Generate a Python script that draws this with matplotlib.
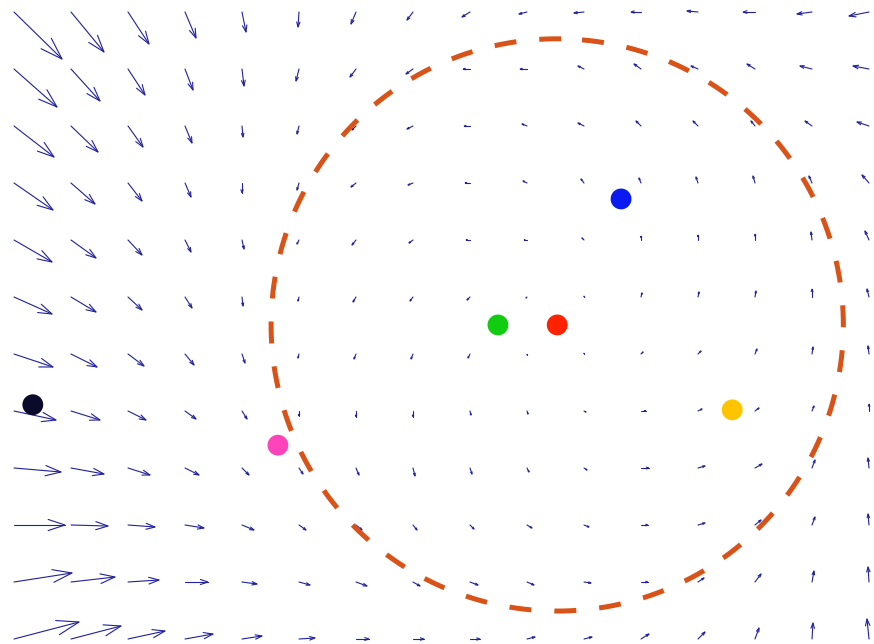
import numpy as np
import matplotlib
matplotlib.use("Agg")
import matplotlib.pyplot as plt
from matplotlib.collections import LineCollection

# vector field on a 16 x 12 grid (row 0 at the top), components in screen pixels
U = [
    [48, 33, 21, 11, 4, -1, -5, -6, -8, -8, -10, -10, -11, -12, -15, -20],
    [43, 29, 17, 8, 2, -3, -6, -7, -7, -7, -6, -7, -7, -8, -12, -16],
    [40, 27, 15, 7, 1, -2, -4, -6, -6, -5, -6, -5, -5, -4, -7, -12],
    [39, 24, 14, 6, 0, -2, -5, -5, -5, -4, -3, -2, -2, -2, -3, -7],
    [38, 25, 14, 6, 2, -2, -4, -4, -4, -3, -2, 0, 0, 0, -1, -4],
    [38, 25, 14, 7, 1, -1, -3, -3, -3, -1, 0, 1, 1, 1, 0, -2],
    [39, 26, 16, 9, 3, -1, -2, -2, -2, 0, 0, 2, 3, 2, 1, -1],
    [42, 29, 18, 11, 5, 0, 0, 0, 1, 1, 2, 5, 4, 4, 2, 0],
    [47, 33, 22, 14, 7, 4, 3, 2, 2, 2, 3, 8, 7, 7, 3, -1],
    [51, 37, 27, 19, 12, 7, 6, 4, 4, 5, 5, 7, 7, 6, 3, -1],
    [58, 44, 31, 23, 15, 11, 11, 7, 8, 7, 7, 7, 6, 6, 2, -1],
    [65, 50, 37, 28, 20, 16, 13, 11, 10, 8, 8, 8, 7, 4, 1, -2],
]
V = [
    [47, 40, 32, 26, 20, 15, 12, 8, 5, 2, 1, 0, -1, 0, 2, 4],
    [38, 32, 26, 21, 17, 12, 8, 5, 0, 0, -3, -5, -3, -5, -3, -3],
    [31, 26, 21, 17, 11, 8, 4, 3, 0, -2, -3, -5, -5, -5, -5, -4],
    [27, 21, 18, 14, 10, 7, 4, 2, 0, -2, -4, -5, -6, -7, -7, -8],
    [22, 18, 15, 12, 9, 4, 5, 3, 0, 0, -2, -4, -5, -6, -8, -9],
    [17, 15, 13, 11, 9, 4, 5, 4, 3, 1, -1, -4, -5, -6, -8, -8],
    [13, 13, 12, 11, 9, 4, 5, 5, 4, 1, -1, -2, -3, -5, -7, -8],
    [9, 9, 9, 8, 8, 5, 6, 6, 4, 3, 1, 0, -2, -3, -5, -7],
    [4, 6, 7, 7, 7, 6, 7, 8, 6, 4, 2, 0, -2, -4, -8, -10],
    [0, 1, 2, 3, 5, 5, 5, 5, 4, 3, 2, 0, -2, -5, -8, -11],
    [-9, -5, -2, 0, 2, 3, 4, 4, 3, 3, 1, 0, -4, -8, -11, -15],
    [-17, -13, -8, -5, -3, -1, 0, 0, 0, -2, -2, -5, -7, -11, -16, -20],
]

# points (grid units)
pt_x = [0.33, 4.63, 8.49, 9.53, 10.65, 12.60]
pt_y = [6.89, 7.60, 5.49, 5.49, 3.28, 6.98]
pt_col = ['#0a0a2a', '#ff44bb', '#11cc11', '#ff2200', '#0a1af0', '#ffc400']

# boundary circle
circ_cx, circ_cy, circ_r = 9.53, 5.49, 5.02

px_per_unit = 57.0


def matlab_quiver(ax, U, V, color, lw):
    """Arrows with open two-line heads, like MATLAB's quiver."""
    U = np.asarray(U, float) / px_per_unit
    V = np.asarray(V, float) / px_per_unit
    ny, nx = U.shape
    X, Y = np.meshgrid(np.arange(nx), np.arange(ny))
    alpha, beta = 0.33, 0.33
    segs = []
    for x, y, u, v in zip(X.ravel(), Y.ravel(), U.ravel(), V.ravel()):
        tx, ty = x + u, y + v
        segs.append([(x, y), (tx, ty)])
        segs.append([(tx - alpha * (u + beta * v), ty - alpha * (v - beta * u)),
                     (tx, ty),
                     (tx - alpha * (u - beta * v), ty - alpha * (v + beta * u))])
    ax.add_collection(LineCollection(segs, colors=color, linewidths=lw,
                                     capstyle='round', joinstyle='miter'))


fig = plt.figure(figsize=(8.74, 6.44), dpi=100)
ax = fig.add_axes([0, 0, 1, 1])
ax.set_xlim(-14 / px_per_unit, (874 - 14) / px_per_unit)
ax.set_ylim((644 - 12) / px_per_unit, -12 / px_per_unit)
ax.axis('off')

matlab_quiver(ax, U, V, '#2020a0', 0.8)

# dashed circle, starting from the top so the dash lands centred there
t = np.linspace(np.deg2rad(89.2), np.deg2rad(89.2) + 2 * np.pi, 720)
ax.plot(circ_cx + circ_r * np.cos(t), circ_cy - circ_r * np.sin(t),
        color='#d95319', lw=3.6, dashes=(4.4, 4.6), solid_capstyle='butt',
        dash_capstyle='butt')

ax.scatter(pt_x, pt_y, s=225, c=pt_col, edgecolors='none', zorder=5)

fig.savefig('out.png', dpi=100)
